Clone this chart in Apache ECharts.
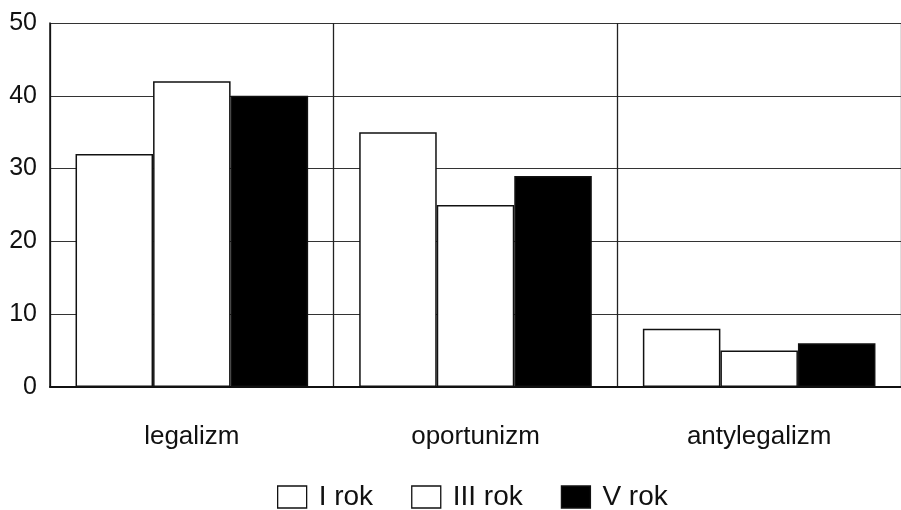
<!DOCTYPE html>
<html><head><meta charset="utf-8">
<script src="https://cdn.jsdelivr.net/npm/echarts@6/dist/echarts.min.js"></script>
<style>html,body{margin:0;padding:0;background:#fff}#c{width:901px;height:510px}</style>
</head><body><div id="c"></div>
<script>
var categories = ['legalizm', 'oportunizm', 'antylegalizm'];
var seriesNames = ['I rok', 'III rok', 'V rok'];
var rok1 = [32, 35, 8];
var rok3 = [42, 25, 5];
var rok5 = [40, 29, 6];
var yTicks = [0, 10, 20, 30, 40, 50];

var chart = echarts.init(document.getElementById('c'));
var fills = ['#ffffff', '#ffffff', '#000000'];
var data = [rok1, rok3, rok5];
var FF = 'Liberation Sans, Arial, sans-serif';
chart.setOption({
  animation: false,
  textStyle: {fontFamily: FF},
  grid: {left: 50, right: 0, top: 23, bottom: 123, show: false},
  legend: {
    top: 478, left: 272, padding: 5, itemWidth: 29, itemHeight: 22, itemGap: 38,
    icon: 'rect',
    textStyle: {fontSize: 28, color: '#111', fontFamily: FF, padding: [0, 0, 0, 7]},
    data: seriesNames.map(function(n, i){ return {name: n, itemStyle: {color: fills[i], borderColor: '#111', borderWidth: 1.3}}; })
  },
  xAxis: {
    type: 'category', data: categories,
    axisLine: {show: true, lineStyle: {color: '#111', width: 2}},
    axisTick: {show: false},
    axisLabel: {fontSize: 26, color: '#111', margin: 37},
    splitLine: {show: true, lineStyle: {color: '#222', width: 1.3}}
  },
  yAxis: {
    type: 'value', min: 0, max: 50, interval: 10,
    axisLine: {show: true, lineStyle: {color: '#111', width: 1.5}},
    axisTick: {show: false},
    axisLabel: {fontSize: 25, color: '#111', margin: 13, formatter: function(v){ return yTicks.indexOf(v) >= 0 ? String(v) : ''; }},
    splitLine: {show: true, lineStyle: {color: '#333', width: 1.2}}
  },
  series: seriesNames.map(function(n, i){
    return {
      name: n, type: 'bar', data: data[i], barGap: '0%', barCategoryGap: '18%',
      itemStyle: {color: fills[i], borderColor: '#111', borderWidth: 1.5}
    };
  })
});
</script></body></html>
